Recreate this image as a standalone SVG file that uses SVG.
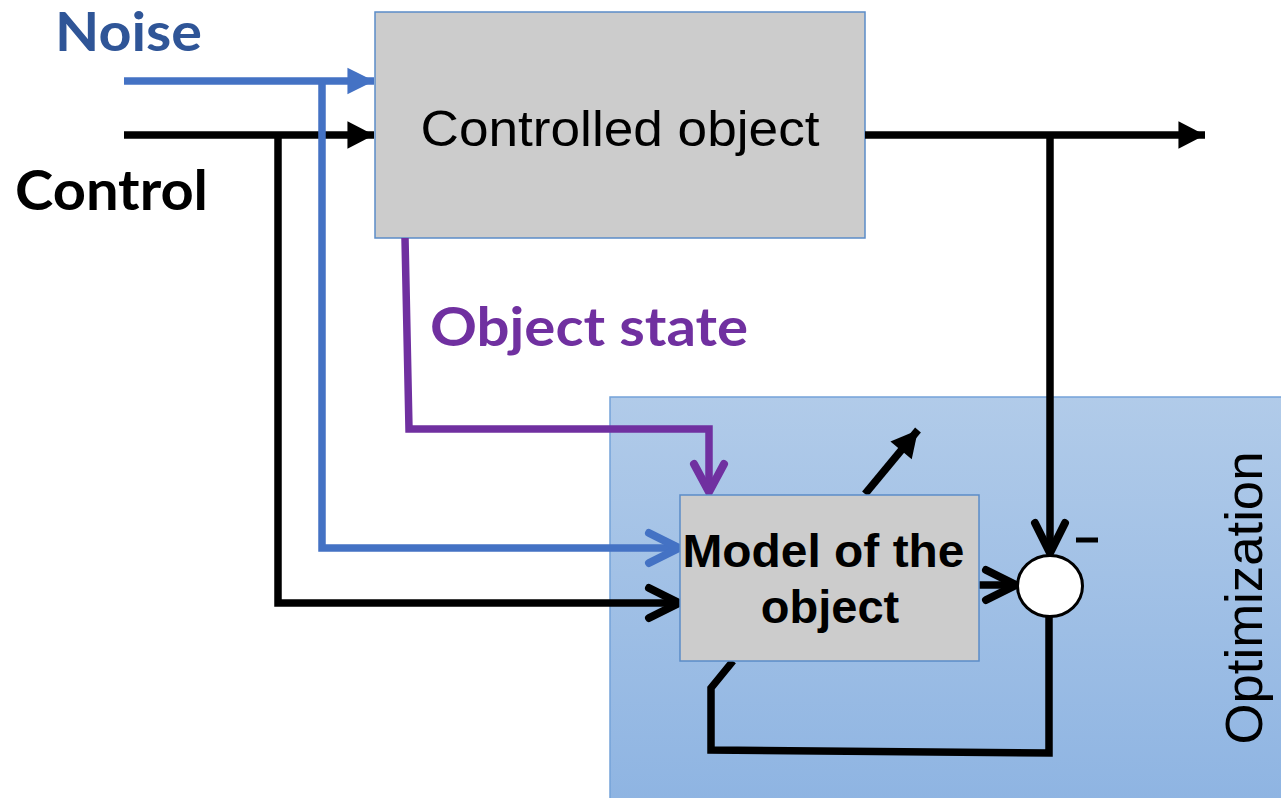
<svg xmlns="http://www.w3.org/2000/svg" width="1281" height="798" viewBox="0 0 1281 798">
<defs>
<linearGradient id="optGrad" x1="0" y1="0" x2="0" y2="1">
<stop offset="0" stop-color="#b1cbe9"/>
<stop offset="1" stop-color="#8eb4e2"/>
</linearGradient>
<marker id="triBlack" markerUnits="userSpaceOnUse" markerWidth="30" markerHeight="30" viewBox="-24 -13 26 26" refX="0" refY="0" orient="auto">
<path d="M-23,-12 L0,0 L-23,12 z" fill="#000"/>
</marker>
<marker id="triBlue" markerUnits="userSpaceOnUse" markerWidth="30" markerHeight="30" viewBox="-24 -13 26 26" refX="0" refY="0" orient="auto">
<path d="M-23,-11.5 L0,0 L-23,11.5 z" fill="#4472c4"/>
</marker>
<marker id="chevBlack" markerUnits="userSpaceOnUse" markerWidth="48" markerHeight="48" viewBox="-38 -24 42 48" refX="0" refY="0" orient="auto">
<path d="M-30,-15 L0,0 L-30,15" fill="none" stroke="#000" stroke-width="8" stroke-linecap="round" stroke-linejoin="miter"/>
</marker>
<marker id="chevBlue" markerUnits="userSpaceOnUse" markerWidth="48" markerHeight="48" viewBox="-38 -24 42 48" refX="0" refY="0" orient="auto">
<path d="M-30,-15 L0,0 L-30,15" fill="none" stroke="#4472c4" stroke-width="8" stroke-linecap="round"/>
</marker>
<marker id="chevPurple" markerUnits="userSpaceOnUse" markerWidth="48" markerHeight="48" viewBox="-38 -24 42 48" refX="0" refY="0" orient="auto">
<path d="M-28,-15 L0,0 L-28,15" fill="none" stroke="#7030a0" stroke-width="8" stroke-linecap="round"/>
</marker>
</defs>
<style>
.box{fill:#cccccc;stroke:#5b8cc8;stroke-width:1.5}
.ln{fill:none;stroke-width:7.5;stroke-linejoin:miter}
.blk{stroke:#000}
.blu{stroke:#4472c4}
.pur{stroke:#7030a0}
.lbl{font-family:Lato,"Open Sans","Liberation Sans",sans-serif;font-weight:bold}
.arial{font-family:"Liberation Sans",Arial,sans-serif}
</style>
<rect width="1281" height="798" fill="#fff"/>

<g id="optimization">
<rect x="610" y="397" width="680" height="410" fill="url(#optGrad)" stroke="#74a3d9" stroke-width="1.5"/>
<text class="arial" x="0" y="0" font-size="52" transform="translate(1262,598) rotate(-90)" text-anchor="middle" textLength="293" lengthAdjust="spacingAndGlyphs">Optimization</text>
</g>

<g id="controlled-object">
<rect class="box" x="375" y="12" width="490" height="226"/>
<text class="arial" x="620" y="146" font-size="50" text-anchor="middle" textLength="399" lengthAdjust="spacingAndGlyphs">Controlled object</text>
</g>

<g id="labels">
<text class="lbl" x="55" y="51" font-size="54" fill="#2f5597" textLength="147" lengthAdjust="spacingAndGlyphs">Noise</text>
<text class="lbl" x="15" y="210" font-size="56" fill="#000" textLength="193" lengthAdjust="spacingAndGlyphs">Control</text>
<text class="lbl" x="430" y="346" font-size="54" fill="#7030a0" textLength="318" lengthAdjust="spacingAndGlyphs">Object state</text>
</g>

<g id="connectors">
<path class="ln blu" d="M124,81 H374" marker-end="url(#triBlue)"/>
<path class="ln blk" d="M124,135 H374" marker-end="url(#triBlack)"/>
<path class="ln blk" d="M278,135 V603 H679" marker-end="url(#chevBlack)"/>
<path class="ln blu" d="M322,81 V548 H679" marker-end="url(#chevBlue)"/>
<path class="ln blk" d="M865,135 H1205" marker-end="url(#triBlack)"/>
<path class="ln blk" d="M1050,135 V553" marker-end="url(#chevBlack)"/>
<path class="ln pur" d="M405,238 L409,429 H709 V492" marker-end="url(#chevPurple)"/>
<path class="ln blk" d="M979,585 H1016" marker-end="url(#chevBlack)"/>
<path class="ln blk" d="M865,494 L918,430" marker-end="url(#triBlack)"/>
<path class="ln blk" d="M1049,616 V753 L711,750 V688 L733,661"/>
</g>

<g id="model">
<rect class="box" x="680" y="495" width="299" height="166"/>
<text class="arial" font-weight="bold" font-size="47" text-anchor="middle">
<tspan x="830" y="567" textLength="282" lengthAdjust="spacingAndGlyphs">Model of the</tspan>
<tspan x="830" y="623">object</tspan>
</text>
</g>

<g id="comparator">
<ellipse cx="1050" cy="586" rx="32.5" ry="30.5" fill="#fff" stroke="#000" stroke-width="3"/>
<line x1="1076" y1="540" x2="1098" y2="540" stroke="#000" stroke-width="5"/>
</g>
</svg>
